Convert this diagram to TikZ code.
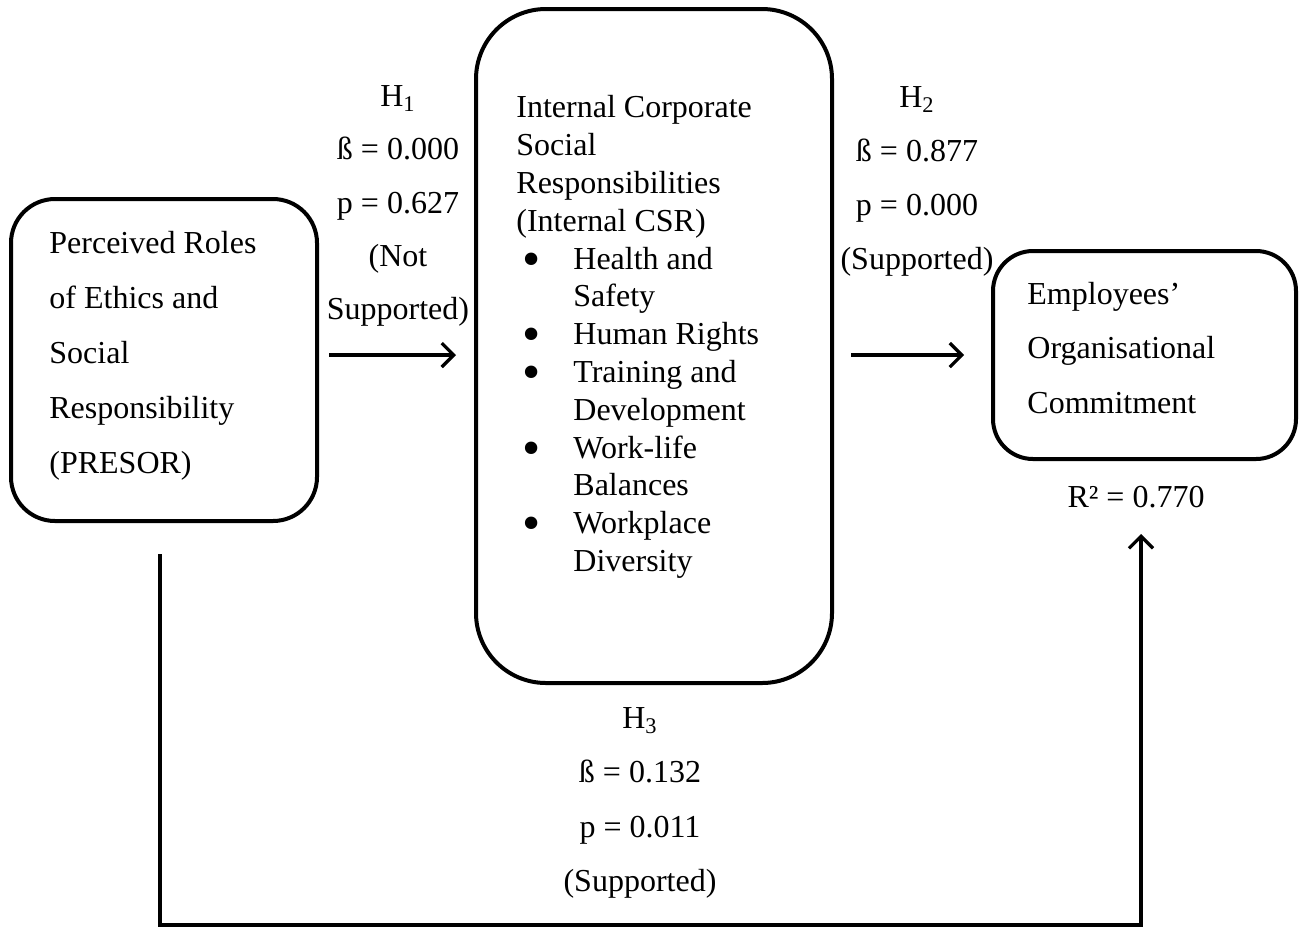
\documentclass[tikz,border=0pt]{standalone}
\usepackage{fontspec}
\setmainfont{Liberation Serif}
\usepackage{tikz}
\usetikzlibrary{arrows.meta}
\newcommand\csritem{\makebox[28.5pt][l]{\hspace*{3pt}\smash{\raisebox{-3.5pt}{\fontsize{26}{26}\selectfont\textbullet}}}}
\newcommand\csrgap{\hspace*{28.5pt}}

\begin{document}
\begin{tikzpicture}[%
            x=0.5pt,y=-0.5pt,
            >={Straight Barb[length=6pt,width=12pt]},
            construct/.style={draw,line width=2pt,inner sep=0pt},
            caption/.style={align=left,inner sep=0pt,font={\fontsize{16}{#1}\selectfont}},
            stats/.style={align=center,inner sep=0pt,font={\fontsize{16}{#1}\selectfont}},
            link/.style={->,line width=1.6pt}
          ]
            \useasboundingbox (0,0) rectangle (1305,928);

            % the three constructs
            \node [construct,rounded corners=22pt,minimum width=153pt,minimum height=161pt]
              (presor) at (164,360) {};
            \node [construct,rounded corners=35pt,minimum width=178pt,minimum height=337pt]
              (icsr) at (654,346) {};
            \node [construct,rounded corners=20pt,minimum width=151.5pt,minimum height=104pt]
              (eoc) at (1144.5,355) {};

            \node [caption=27.5pt,anchor=west] (presortext) at (49,356)
              {Perceived Roles\\of Ethics and\\Social\\Responsibility\\(PRESOR)};
            \node [caption=18.9pt,anchor=west] (icsrtext) at (516,337)
              {Internal Corporate\\Social\\Responsibilities\\(Internal CSR)\\
               \csritem Health and\\\csrgap Safety\\
               \csritem Human Rights\\
               \csritem Training and\\\csrgap Development\\
               \csritem Work-life\\\csrgap Balances\\
               \csritem Workplace\\\csrgap Diversity};
            \node [caption=27.25pt,anchor=west] (eoctext) at (1027,348)
              {Employees’\\Organisational\\Commitment};
            \node [stats=16pt] (rsq) at (1136,497) {R² = 0.770};

            % hypotheses
            \node [stats=26.6pt] (hyp1) at (398,206)
              {H\textsubscript{1}\\ß = 0.000\\p = 0.627\\(Not\\Supported)};
            \node [stats=27pt] (hyp2) at (917,181)
              {H\textsubscript{2}\\ß = 0.877\\p = 0.000\\(Supported)};
            \node [stats=27.2pt] (hyp3) at (640,803)
              {H\textsubscript{3}\\ß = 0.132\\p = 0.011\\(Supported)};

            \draw [link,shorten <=5pt,shorten >=9pt]
              ([yshift=2.5pt]presor.east) -- ([yshift=-4.5pt]icsr.west);
            \draw [link,shorten <=8.5pt,shorten >=13.5pt]
              ([yshift=-4.5pt]icsr.east) -- (eoc.west);
            \coordinate (h3line) at (650,925);
            \draw [link,shorten <=15.5pt,shorten >=36.5pt]
              ([xshift=-2pt]presor.south) |- (h3line) -| ([xshift=-1.75pt]eoc.south);
          \end{tikzpicture}
\end{document}
